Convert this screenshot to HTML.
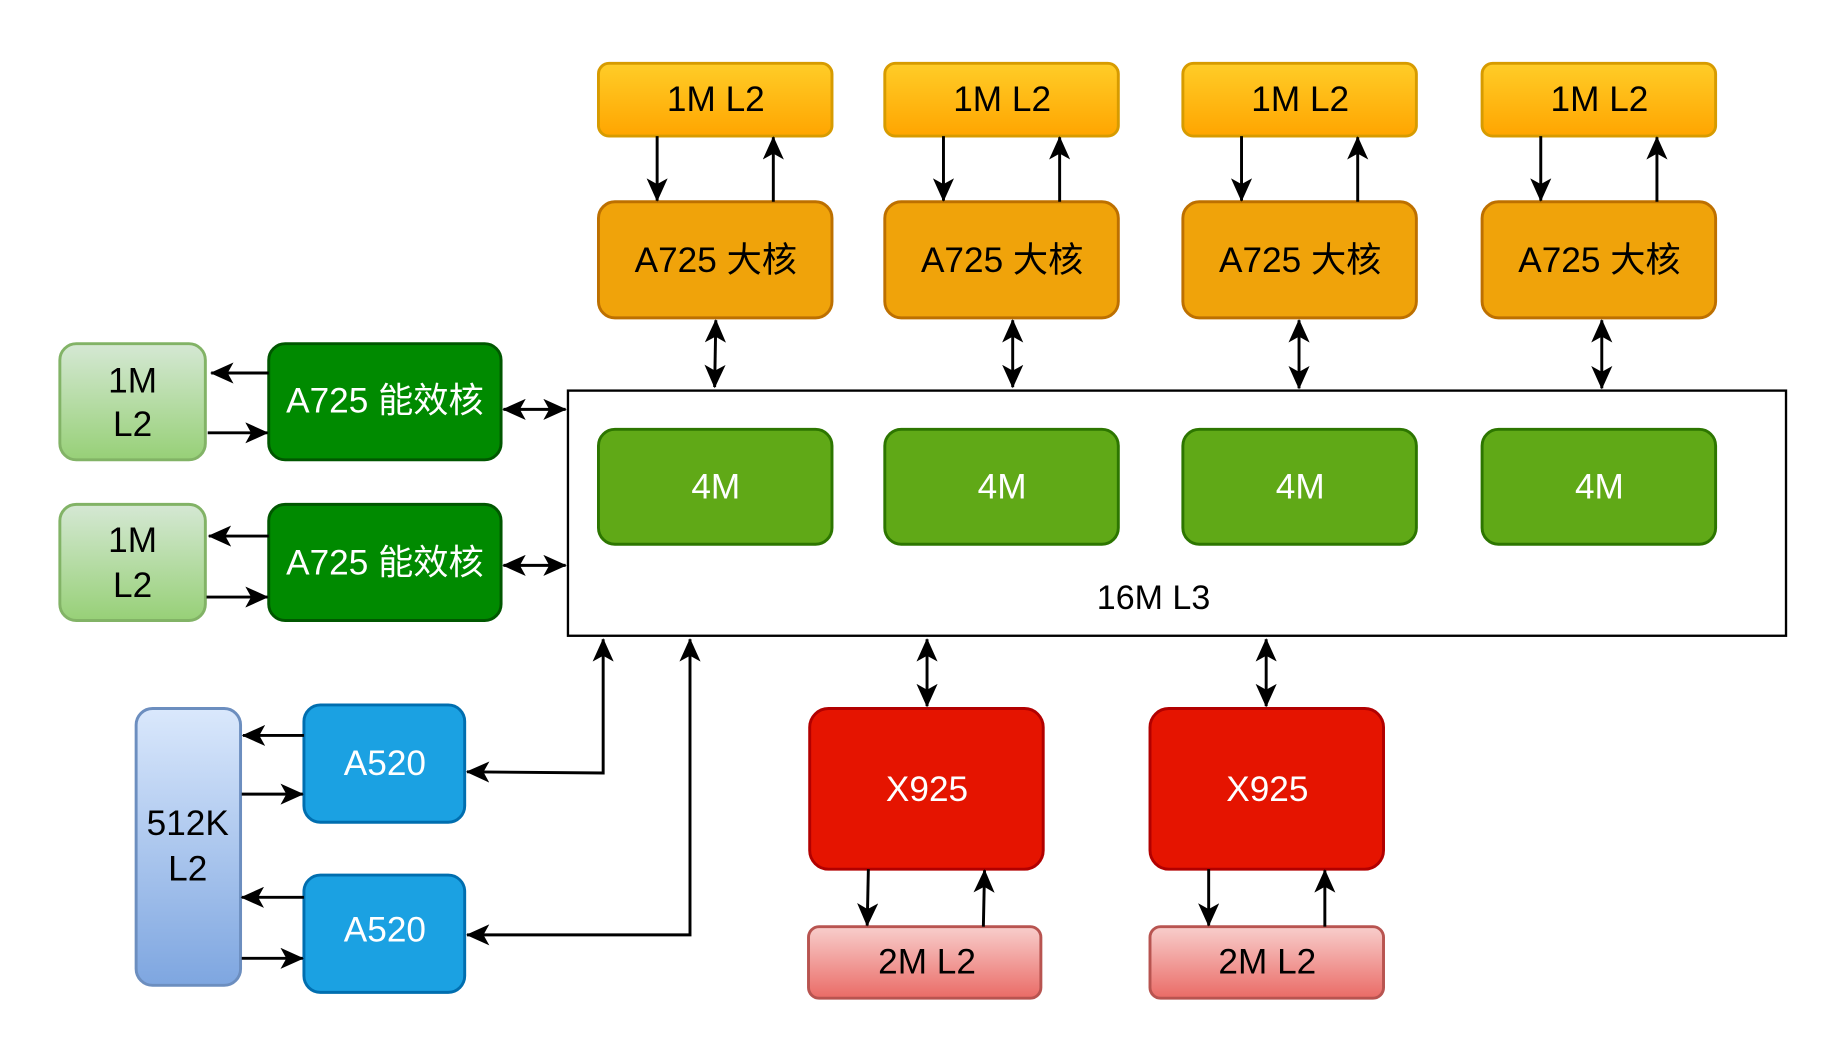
<!DOCTYPE html>
<html><head><meta charset="utf-8"><style>
html,body{margin:0;padding:0;background:#fff;}
svg{display:block;}
text{font-family:"Liberation Sans","Noto Sans CJK SC",sans-serif;text-anchor:middle;dominant-baseline:central;}
</style></head><body>
<svg width="1840" height="1051" viewBox="0 0 1568 896" preserveAspectRatio="none" xmlns="http://www.w3.org/2000/svg">
<defs>
<linearGradient id="go" x1="0" y1="0" x2="0" y2="1"><stop offset="0" stop-color="#ffcd28"/><stop offset="1" stop-color="#ffa500"/></linearGradient>
<linearGradient id="gg" x1="0" y1="0" x2="0" y2="1"><stop offset="0" stop-color="#d5e8d4"/><stop offset="1" stop-color="#97d077"/></linearGradient>
<linearGradient id="gb" x1="0" y1="0" x2="0" y2="1"><stop offset="0" stop-color="#dae8fc"/><stop offset="1" stop-color="#7ea6e0"/></linearGradient>
<linearGradient id="gr" x1="0" y1="0" x2="0" y2="1"><stop offset="0" stop-color="#f8cecc"/><stop offset="1" stop-color="#ea6b66"/></linearGradient>
<marker id="a" viewBox="0 0 20 18" refX="19" refY="9" markerWidth="20" markerHeight="18" markerUnits="userSpaceOnUse" orient="auto-start-reverse">
<path d="M0,0 L20,9 L0,18 L5,9 Z" fill="#000"/></marker>
</defs>
<rect x="484" y="333" width="1038" height="209" fill="#fff" stroke="#000" stroke-width="2"/>
<text x="983" y="510" font-size="29">16M L3</text>
<g stroke-width="2.5">
<rect x="510" y="54" width="199" height="62" rx="9" fill="url(#go)" stroke="#d79b00"/>
<rect x="754" y="54" width="199" height="62" rx="9" fill="url(#go)" stroke="#d79b00"/>
<rect x="1008" y="54" width="199" height="62" rx="9" fill="url(#go)" stroke="#d79b00"/>
<rect x="1263" y="54" width="199" height="62" rx="9" fill="url(#go)" stroke="#d79b00"/>
<rect x="510" y="172" width="199" height="99" rx="14" fill="#f0a30a" stroke="#bd7000"/>
<rect x="754" y="172" width="199" height="99" rx="14" fill="#f0a30a" stroke="#bd7000"/>
<rect x="1008" y="172" width="199" height="99" rx="14" fill="#f0a30a" stroke="#bd7000"/>
<rect x="1263" y="172" width="199" height="99" rx="14" fill="#f0a30a" stroke="#bd7000"/>
<rect x="510" y="366" width="199" height="98" rx="14" fill="#60a917" stroke="#2d7600"/>
<rect x="754" y="366" width="199" height="98" rx="14" fill="#60a917" stroke="#2d7600"/>
<rect x="1008" y="366" width="199" height="98" rx="14" fill="#60a917" stroke="#2d7600"/>
<rect x="1263" y="366" width="199" height="98" rx="14" fill="#60a917" stroke="#2d7600"/>
<rect x="51" y="293" width="124" height="99" rx="14" fill="url(#gg)" stroke="#82b366"/>
<rect x="51" y="430" width="124" height="99" rx="14" fill="url(#gg)" stroke="#82b366"/>
<rect x="229" y="293" width="198" height="99" rx="14" fill="#008a00" stroke="#005700"/>
<rect x="229" y="430" width="198" height="99" rx="14" fill="#008a00" stroke="#005700"/>
<rect x="116" y="604" width="89" height="236" rx="14" fill="url(#gb)" stroke="#6c8ebf"/>
<rect x="259" y="601" width="137" height="100" rx="14" fill="#1ba1e2" stroke="#006eaf"/>
<rect x="259" y="746" width="137" height="100" rx="14" fill="#1ba1e2" stroke="#006eaf"/>
<rect x="690" y="604" width="199" height="137" rx="16" fill="#e51400" stroke="#b20000"/>
<rect x="980" y="604" width="199" height="137" rx="16" fill="#e51400" stroke="#b20000"/>
<rect x="689" y="790" width="198" height="61" rx="9" fill="url(#gr)" stroke="#b85450"/>
<rect x="980" y="790" width="199" height="61" rx="9" fill="url(#gr)" stroke="#b85450"/>
</g>
<g font-size="30">
<text x="610" y="85">1M L2</text><text x="854" y="85">1M L2</text><text x="1108" y="85">1M L2</text><text x="1363" y="85">1M L2</text>
<text x="610" y="222">A725 大核</text><text x="854" y="222">A725 大核</text><text x="1108" y="222">A725 大核</text><text x="1363" y="222">A725 大核</text>
<text x="610" y="415" fill="#fff">4M</text><text x="854" y="415" fill="#fff">4M</text><text x="1108" y="415" fill="#fff">4M</text><text x="1363" y="415" fill="#fff">4M</text>
<text x="113" y="325">1M</text><text x="113" y="362">L2</text>
<text x="113" y="461">1M</text><text x="113" y="499">L2</text>
<text x="328" y="342" fill="#fff">A725 能效核</text>
<text x="328" y="480" fill="#fff">A725 能效核</text>
<text x="160" y="702">512K</text><text x="160" y="741">L2</text>
<text x="328" y="651" fill="#fff">A520</text>
<text x="328" y="793" fill="#fff">A520</text>
<text x="790" y="673" fill="#fff">X925</text>
<text x="1080" y="673" fill="#fff">X925</text>
<text x="790" y="820">2M L2</text>
<text x="1080" y="820">2M L2</text>
</g>
<g stroke="#000" stroke-width="2.5" fill="none">
<line x1="560" y1="116" x2="560" y2="171" marker-end="url(#a)"/>
<line x1="659" y1="172" x2="659" y2="117" marker-end="url(#a)"/>
<line x1="804" y1="116" x2="804" y2="171" marker-end="url(#a)"/>
<line x1="903" y1="172" x2="903" y2="117" marker-end="url(#a)"/>
<line x1="1058" y1="116" x2="1058" y2="171" marker-end="url(#a)"/>
<line x1="1157" y1="172" x2="1157" y2="117" marker-end="url(#a)"/>
<line x1="1313" y1="116" x2="1313" y2="171" marker-end="url(#a)"/>
<line x1="1412" y1="172" x2="1412" y2="117" marker-end="url(#a)"/>
<line x1="610" y1="273" x2="609" y2="330" marker-start="url(#a)" marker-end="url(#a)"/>
<line x1="863" y1="273" x2="863" y2="330" marker-start="url(#a)" marker-end="url(#a)"/>
<line x1="1107" y1="273" x2="1107" y2="331" marker-start="url(#a)" marker-end="url(#a)"/>
<line x1="1365" y1="273" x2="1365" y2="331" marker-start="url(#a)" marker-end="url(#a)"/>
<line x1="229" y1="318" x2="180" y2="318" marker-end="url(#a)"/>
<line x1="177" y1="369" x2="228" y2="369" marker-end="url(#a)"/>
<line x1="229" y1="457" x2="178" y2="457" marker-end="url(#a)"/>
<line x1="176" y1="509" x2="228" y2="509" marker-end="url(#a)"/>
<line x1="429" y1="349" x2="482" y2="349" marker-start="url(#a)" marker-end="url(#a)"/>
<line x1="429" y1="482" x2="482" y2="482" marker-start="url(#a)" marker-end="url(#a)"/>
<line x1="259" y1="627" x2="207" y2="627" marker-end="url(#a)"/>
<line x1="206" y1="677" x2="258" y2="677" marker-end="url(#a)"/>
<line x1="259" y1="765" x2="206" y2="765" marker-end="url(#a)"/>
<line x1="206" y1="817" x2="258" y2="817" marker-end="url(#a)"/>
<polyline points="514,545 514,659 398,658" marker-start="url(#a)" marker-end="url(#a)"/>
<polyline points="588,545 588,797 398,797" marker-start="url(#a)" marker-end="url(#a)"/>
<line x1="790" y1="545" x2="790" y2="602" marker-start="url(#a)" marker-end="url(#a)"/>
<line x1="1079" y1="545" x2="1079" y2="602" marker-start="url(#a)" marker-end="url(#a)"/>
<line x1="740" y1="741" x2="739" y2="789" marker-end="url(#a)"/>
<line x1="838" y1="790" x2="839" y2="742" marker-end="url(#a)"/>
<line x1="1030" y1="741" x2="1030" y2="789" marker-end="url(#a)"/>
<line x1="1129" y1="790" x2="1129" y2="742" marker-end="url(#a)"/>
</g>
</svg>
</body></html>
